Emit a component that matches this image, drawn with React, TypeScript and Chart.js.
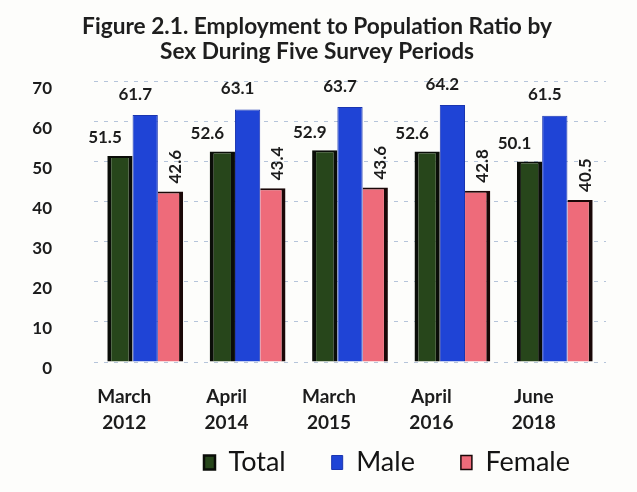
import React, { useEffect, useRef } from "react";
import { Chart, registerables } from "chart.js";

Chart.register(...registerables);

const categories: string[][] = [
  ["March", "2012"],
  ["April", "2014"],
  ["March", "2015"],
  ["April", "2016"],
  ["June", "2018"],
];
const totalValues = [51.5, 52.6, 52.9, 52.6, 50.1];
const maleValues = [61.7, 63.1, 63.7, 64.2, 61.5];
const femaleValues = [42.6, 43.4, 43.6, 42.8, 40.5];
const titleLines = [
  "Figure 2.1. Employment to Population Ratio by",
  "Sex During Five Survey Periods",
];

const FONT = "Lato, 'DejaVu Sans', sans-serif";

const valueLabels = {
  id: "valueLabels",
  afterDatasetsDraw(chart: any) {
    const ctx = chart.ctx as CanvasRenderingContext2D;
    ctx.save();
    ctx.font = `bold 17px ${FONT}`;
    ctx.fillStyle = "#1c1c1c";
    chart.data.datasets.forEach((ds: any, di: number) => {
      const meta = chart.getDatasetMeta(di);
      meta.data.forEach((bar: any, i: number) => {
        const v = ds.data[i] as number;
        const text = v.toFixed(1);
        const { x, y } = bar.getProps(["x", "y"], true);
        if (di === 2) {
          ctx.save();
          ctx.translate(x + 5, y - 8);
          ctx.rotate(-Math.PI / 2);
          ctx.textAlign = "left";
          ctx.textBaseline = "middle";
          ctx.fillText(text, 0, 0);
          ctx.restore();
        } else {
          ctx.textAlign = "center";
          ctx.textBaseline = "middle";
          const dx = di === 0 ? -15 : -10;
          const dy = di === 0 ? -18 : -21;
          ctx.fillText(text, x + dx, y + dy);
        }
      });
    });
    ctx.restore();
  },
};

export default function App() {
  const ref = useRef<HTMLCanvasElement | null>(null);

  useEffect(() => {
    if (!ref.current) return;
    const chart = new Chart(ref.current, {
      type: "bar",
      data: {
        labels: categories as any,
        datasets: [
          {
            label: "Total",
            data: totalValues,
            backgroundColor: "#27461b",
            borderColor: "#0a0d08",
            borderWidth: { left: 4, right: 4, top: 2, bottom: 0 },
            borderSkipped: false,
            categoryPercentage: 0.74,
            barPercentage: 1,
          },
          {
            label: "Male",
            data: maleValues,
            backgroundColor: "#1f44d6",
            borderColor: "#1a35b0",
            borderWidth: 1,
            categoryPercentage: 0.74,
            barPercentage: 1,
          },
          {
            label: "Female",
            data: femaleValues,
            backgroundColor: "#ee6b7a",
            borderColor: "#1a0808",
            borderWidth: { left: 0, right: 4, top: 2, bottom: 0 },
            borderSkipped: false,
            categoryPercentage: 0.74,
            barPercentage: 1,
          },
        ] as any,
      },
      options: {
        animation: false,
        responsive: false,
        layout: { padding: { left: 18, right: 21, top: 0, bottom: 6 } },
        plugins: {
          title: {
            display: true,
            text: titleLines,
            color: "#1e1e1e",
            font: { family: FONT, size: 22.7, weight: "bold", lineHeight: 1.12 },
            padding: { top: 14, bottom: 17 },
          },
          legend: {
            position: "bottom",
            align: "end",
            labels: {
              color: "#141414",
              font: { family: FONT, size: 27 },
              boxWidth: 11,
              boxHeight: 14,
              padding: 46,
            },
          },
          tooltip: { enabled: false },
        },
        scales: {
          x: {
            grid: { display: false },
            border: { display: false },
            afterFit: (axis: any) => {
              axis.height = 41;
            },
            ticks: {
              autoSkip: false,
              maxRotation: 0,
              mirror: true,
              padding: -48,
              labelOffset: -21,
              color: "#1c1c1c",
              font: { family: FONT, size: 19, weight: "bold", lineHeight: 1.37 },
            },
          },
          y: {
            min: 0,
            max: 70,
            afterFit: (axis: any) => {
              axis.width = 76;
            },
            grid: {
              color: "rgba(110,140,185,0.5)",
              lineWidth: 1,
              drawTicks: false,
            },
            border: { display: false, dash: [4, 6] },
            ticks: {
              stepSize: 10,
              padding: 42,
              labelOffset: 7,
              color: "#1c1c1c",
              font: { family: FONT, size: 17, weight: "bold" },
            },
          },
          yr: {
            type: "linear",
            position: "right",
            grid: { display: false },
            border: { display: false },
            ticks: { display: false },
            afterFit: (axis: any) => {
              axis.width = 10;
            },
          },
        } as any,
      },
      plugins: [valueLabels],
    });
    return () => chart.destroy();
  }, []);

  return (
    <div style={{ position: "fixed", left: 0, top: 0, width: 637, height: 492, background: "#fdfdfb" }}>
      <canvas ref={ref} width={637} height={492} style={{ display: "block" }} />
    </div>
  );
}
